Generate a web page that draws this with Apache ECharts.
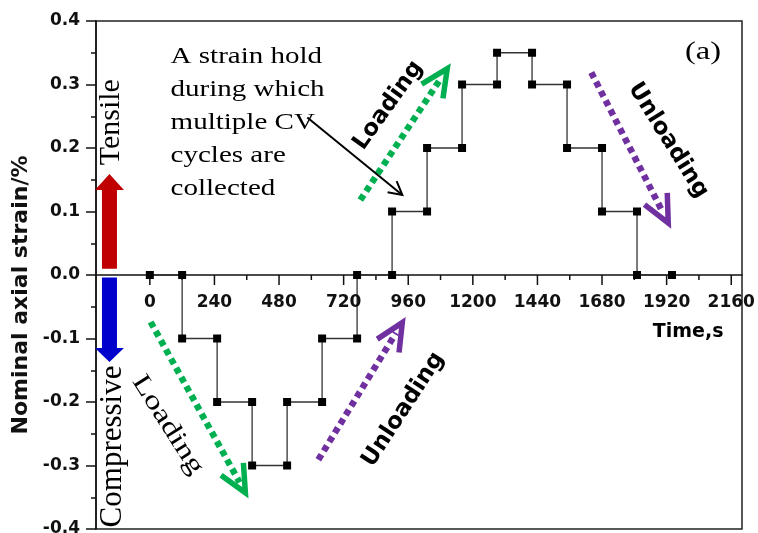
<!DOCTYPE html>
<html><head><meta charset="utf-8">
<script src="https://cdn.jsdelivr.net/npm/echarts@6/dist/echarts.min.js"></script>
<style>html,body{margin:0;padding:0;background:#fff}#c{width:758px;height:533px}</style>
</head><body><div id="c"></div>
<script>
// ---- data ----
const timeS = [0,120,120,250,250,380,380,510,510,640,640,770,770,900,900,1030,1030,1160,1160,1290,1290,1420,1420,1550,1550,1680,1680,1810,1810,1940];
const strainPct = [0,0,-0.1,-0.1,-0.2,-0.2,-0.3,-0.3,-0.2,-0.2,-0.1,-0.1,0,0,0.1,0.1,0.2,0.2,0.3,0.3,0.35,0.35,0.3,0.3,0.2,0.2,0.1,0.1,0,0];
const xTickLabels = [0,240,480,720,960,1200,1440,1680,1920,2160];
const xMinorTicks = [120,360,600,840,1080,1320,1560,1800,2040];
const yTickLabels = [-0.4,-0.3,-0.2,-0.1,0,0.1,0.2,0.3,0.4];

// annotation anchors in data units [time, strain]
const dottedArrows = [
  {from:[3,-0.074], to:[355,-0.343], color:'#00b050'},
  {from:[626,-0.291], to:[938,-0.075], color:'#7030a0'},
  {from:[782,0.118], to:[1105,0.325], color:'#00b050'},
  {from:[1640,0.319], to:[1926,0.082], color:'#7030a0'}
];
const pointer = {from:[585,0.248], to:[938,0.126]};
const tensileArrow = {x:-150, base:0.01, headBase:0.134, tip:0.159, color:'#c00000'};
const compressArrow = {x:-150, base:-0.004, headBase:-0.115, tip:-0.137, color:'#0000cc'};
const labels = [
  {text:'Tensile', at:[-142,0.2406], rot:Math.PI/2, family:'Liberation Serif', size:30, weight:'normal', sx:1},
  {text:'Compressive', at:[-139,-0.270], rot:Math.PI/2, family:'Liberation Serif', size:31, weight:'normal', sx:1},
  {text:'Loading', at:[66,-0.236], rot:-1.005, family:'Liberation Serif', size:26, weight:'normal', sx:1.3},
  {text:'Unloading', at:[942,-0.212], rot:0.995, family:'DejaVu Sans', size:23, weight:'bold', sx:1},
  {text:'Loading', at:[886,0.267], rot:0.951, family:'DejaVu Sans', size:23, weight:'bold', sx:1},
  {text:'Unloading', at:[1926,0.212], rot:-1.012, family:'DejaVu Sans', size:23, weight:'bold', sx:1},
  {text:'(a)', at:[2055,0.351], rot:0, family:'Liberation Serif', size:25, weight:'normal', sx:1.3},
  {text:'Time,s', at:[2000,-0.09], rot:0, family:'DejaVu Sans', size:19, weight:'bold', sx:1}
];
const noteText = 'A strain hold\nduring which\nmultiple CV\ncycles are\ncollected';
const noteAt = [77, 0.3695];

const chart = echarts.init(document.getElementById('c'));
const points = timeS.map((t, i) => [t, strainPct[i]]);

const option = {
  animation: false,
  backgroundColor: '#fff',
  grid: {left: 96, right: 16, top: 21, bottom: 4, show: true, borderColor: '#222', borderWidth: 1.5,
         containLabel: false, outerBoundsMode: 'none'},
  xAxis: {
    type: 'value', min: -200, max: 2200,
    axisLine: {onZero: true, lineStyle: {color: '#111', width: 1.5}},
    axisTick: {show: false},
    axisLabel: {show: false},
    splitLine: {show: false}
  },
  yAxis: {
    type: 'value', min: -0.4, max: 0.4, interval: 0.1,
    name: 'Nominal axial strain/%', nameLocation: 'middle', nameGap: 60, nameRotate: 90,
    nameTextStyle: {fontFamily: 'DejaVu Sans', fontWeight: 'bold', fontSize: 22, color: '#111', padding: [0, 40, 0, 0]},
    axisLine: {show: true, onZero: false, lineStyle: {color: '#111', width: 1.5}},
    axisTick: {show: true, length: 10, lineStyle: {color: '#111', width: 1.5}},
    minorTick: {show: true, splitNumber: 2, length: 5, lineStyle: {color: '#111', width: 1.5}},
    axisLabel: {margin: 16, color: '#111', fontFamily: 'DejaVu Sans', fontWeight: 'bold', fontSize: 17,
                formatter: v => (Math.abs(v) < 1e-9 ? 0 : v).toFixed(1)},
    splitLine: {show: false}
  },
  series: [{
    type: 'line', data: points,
    symbol: 'rect', symbolSize: 8, showAllSymbol: true,
    itemStyle: {color: '#000'},
    lineStyle: {color: '#333', width: 1.3},
    z: 5
  }]
};
chart.setOption(option);

const P = (x, y) => chart.convertToPixel({seriesIndex: 0}, [x, y]);
const g = [];

// time-axis ticks and labels along the zero line (ECharts 6 moves on-zero labels to the grid edge)
xTickLabels.forEach(t => {
  const p = P(t, 0);
  g.push({type: 'line', z: 4, shape: {x1: p[0], y1: p[1], x2: p[0], y2: p[1] + 10}, style: {stroke: '#111', lineWidth: 1.5}});
  g.push({type: 'text', z: 6, x: p[0], y: p[1] + 19,
          style: {text: String(t), fontFamily: 'DejaVu Sans', fontWeight: 'bold', fontSize: 17, fill: '#111', align: 'center', verticalAlign: 'top'}});
});
xMinorTicks.forEach(t => {
  const p = P(t, 0);
  g.push({type: 'line', z: 4, shape: {x1: p[0], y1: p[1], x2: p[0], y2: p[1] + 5}, style: {stroke: '#111', lineWidth: 1.5}});
});

function head(t, ux, uy, len, spread) {
  const ang = Math.atan2(-uy, -ux);
  return [[t[0] + len * Math.cos(ang + spread), t[1] + len * Math.sin(ang + spread)], t,
          [t[0] + len * Math.cos(ang - spread), t[1] + len * Math.sin(ang - spread)]];
}

dottedArrows.forEach(a => {
  const s = P(a.from[0], a.from[1]), t = P(a.to[0], a.to[1]);
  const dx = t[0] - s[0], dy = t[1] - s[1], L = Math.hypot(dx, dy), ux = dx / L, uy = dy / L;
  g.push({type: 'line', z: 3, shape: {x1: s[0], y1: s[1], x2: t[0] - ux * 12, y2: t[1] - uy * 12},
          style: {stroke: a.color, lineWidth: 6.5, lineDash: [6, 4.5], lineCap: 'butt'}});
  g.push({type: 'polyline', z: 3, shape: {points: head(t, ux, uy, 30, 0.44)},
          style: {stroke: a.color, lineWidth: 5.5, fill: null, lineJoin: 'miter'}});
});

(function () {
  const s = P(pointer.from[0], pointer.from[1]), t = P(pointer.to[0], pointer.to[1]);
  const dx = t[0] - s[0], dy = t[1] - s[1], L = Math.hypot(dx, dy), ux = dx / L, uy = dy / L;
  g.push({type: 'line', z: 4, shape: {x1: s[0], y1: s[1], x2: t[0], y2: t[1]}, style: {stroke: '#000', lineWidth: 2}});
  g.push({type: 'polyline', z: 4, shape: {points: head(t, ux, uy, 15, 0.5)}, style: {stroke: '#000', lineWidth: 2, fill: null}});
})();

[tensileArrow, compressArrow].forEach(a => {
  const cx = P(a.x, 0)[0];
  const yb = P(a.x, a.base)[1], yh = P(a.x, a.headBase)[1], yt = P(a.x, a.tip)[1];
  g.push({type: 'polygon', z: 3, shape: {points: [[cx - 7.5, yb], [cx + 7.5, yb], [cx + 7.5, yh], [cx + 14.5, yh], [cx, yt], [cx - 14.5, yh], [cx - 7.5, yh]]},
          style: {fill: a.color}});
});

labels.forEach(l => {
  const p = P(l.at[0], l.at[1]);
  g.push({type: 'text', z: 6, x: p[0], y: p[1], rotation: l.rot, scaleX: l.sx, scaleY: 1,
          style: {text: l.text, fontFamily: l.family, fontSize: l.size, fontWeight: l.weight, fill: '#000', align: 'center', verticalAlign: 'middle'}});
});

(function () {
  const p = P(noteAt[0], noteAt[1]);
  g.push({type: 'text', z: 6, x: p[0], y: p[1], scaleX: 1.29,
          style: {text: noteText, fontFamily: 'Liberation Serif', fontSize: 22.5, lineHeight: 33, fill: '#000', align: 'left', verticalAlign: 'top'}});
})();

chart.setOption({graphic: {elements: g}});
</script>
</body></html>
